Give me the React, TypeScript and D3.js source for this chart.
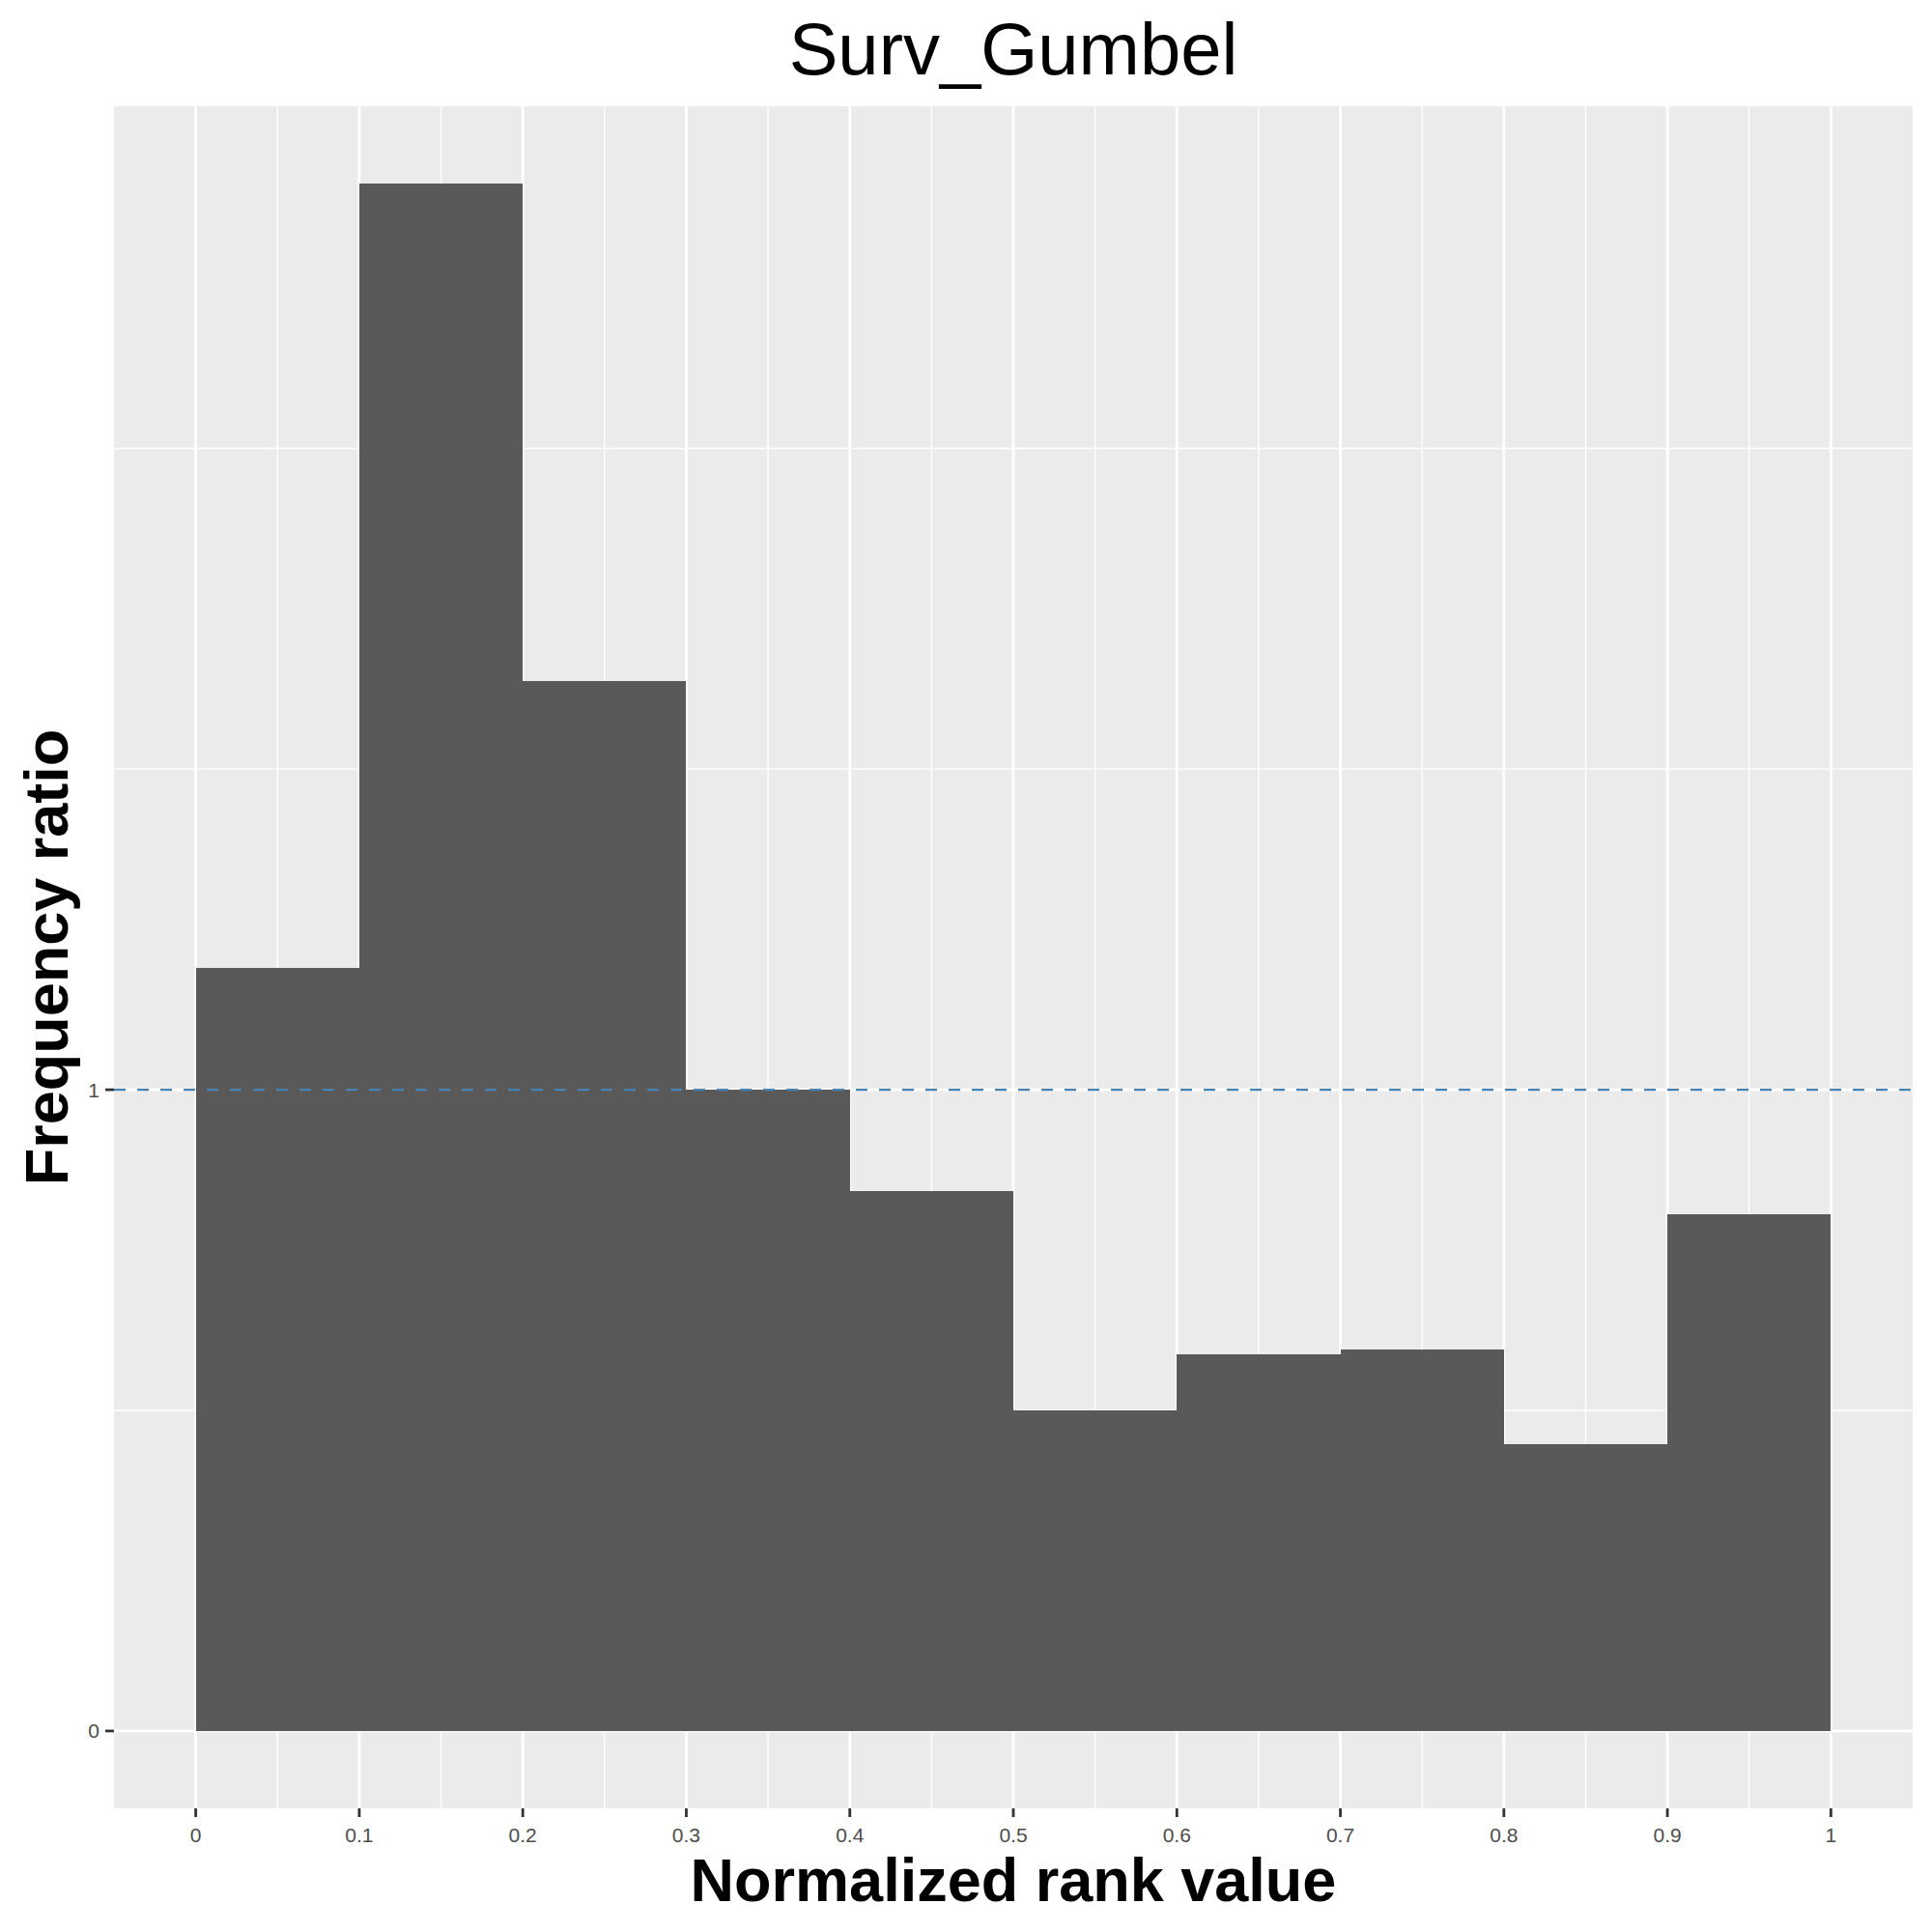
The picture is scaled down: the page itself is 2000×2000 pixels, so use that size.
import * as React from 'react';
import * as d3 from 'd3';

// histogram of normalized rank values (bin width 0.1)
const binEdges = [0, 0.1, 0.2, 0.3, 0.4, 0.5, 0.6, 0.7, 0.8, 0.9, 1];
const frequencyRatio = [1.19, 2.413, 1.638, 1.0, 0.842, 0.5, 0.587, 0.595, 0.447, 0.806];
const xTicks = [0, 0.1, 0.2, 0.3, 0.4, 0.5, 0.6, 0.7, 0.8, 0.9, 1];
const xMinor = [0.05, 0.15, 0.25, 0.35, 0.45, 0.55, 0.65, 0.75, 0.85, 0.95];
const yTicks = [0, 1];
const yMinor = [0.5, 1.5, 2];
const referenceLine = 1;
const chartTitle = 'Surv_Gumbel';
const xTitle = 'Normalized rank value';
const yTitle = 'Frequency ratio';

const FONT = "'Liberation Sans', Arial, sans-serif";

export default function App() {
  const ref = React.useRef<SVGSVGElement>(null);

  React.useEffect(() => {
    const svgWidth = 2000;
    const svgHeight = 2000;
    const panel = { left: 118, right: 1980, top: 110, bottom: 1872 };

    const svg = d3.select(ref.current);
    svg.selectAll('*').remove();
    svg.attr('width', svgWidth).attr('height', svgHeight);

    const xScale = d3
      .scaleLinear()
      .domain([-0.05, 1.05])
      .range([panel.left, panel.right]);
    const yMax = d3.max(frequencyRatio) as number;
    const yScale = d3
      .scaleLinear()
      .domain([-0.05 * yMax, yMax * 1.05])
      .range([panel.bottom, panel.top]);

    svg
      .append('rect')
      .attr('x', panel.left)
      .attr('y', panel.top)
      .attr('width', panel.right - panel.left)
      .attr('height', panel.bottom - panel.top)
      .attr('fill', '#EBEBEB');

    const grid = svg.append('g').attr('stroke', '#fff');
    grid
      .selectAll('.xminor')
      .data(xMinor)
      .enter()
      .append('line')
      .attr('x1', d => xScale(d))
      .attr('x2', d => xScale(d))
      .attr('y1', panel.top)
      .attr('y2', panel.bottom)
      .attr('stroke-width', 1.4);
    grid
      .selectAll('.yminor')
      .data(yMinor)
      .enter()
      .append('line')
      .attr('x1', panel.left)
      .attr('x2', panel.right)
      .attr('y1', d => yScale(d))
      .attr('y2', d => yScale(d))
      .attr('stroke-width', 1.4);
    grid
      .selectAll('.xmajor')
      .data(xTicks)
      .enter()
      .append('line')
      .attr('x1', d => xScale(d))
      .attr('x2', d => xScale(d))
      .attr('y1', panel.top)
      .attr('y2', panel.bottom)
      .attr('stroke-width', 2.8);
    grid
      .selectAll('.ymajor')
      .data(yTicks)
      .enter()
      .append('line')
      .attr('x1', panel.left)
      .attr('x2', panel.right)
      .attr('y1', d => yScale(d))
      .attr('y2', d => yScale(d))
      .attr('stroke-width', 2.8);

    svg
      .append('g')
      .selectAll('rect')
      .data(frequencyRatio)
      .enter()
      .append('rect')
      .attr('x', (d, i) => xScale(binEdges[i]))
      .attr('width', (d, i) => xScale(binEdges[i + 1]) - xScale(binEdges[i]))
      .attr('y', d => yScale(d))
      .attr('height', d => yScale(0) - yScale(d))
      .attr('fill', '#595959')
      .attr('shape-rendering', 'crispEdges');

    svg
      .append('line')
      .attr('x1', panel.left)
      .attr('x2', panel.right)
      .attr('y1', yScale(referenceLine))
      .attr('y2', yScale(referenceLine))
      .attr('stroke', 'steelblue')
      .attr('stroke-width', 2.2)
      .attr('stroke-dasharray', '12,12');

    // x axis
    const xAxis = svg.append('g');
    xAxis
      .selectAll('line')
      .data(xTicks)
      .enter()
      .append('line')
      .attr('x1', d => xScale(d))
      .attr('x2', d => xScale(d))
      .attr('y1', panel.bottom)
      .attr('y2', panel.bottom + 9)
      .attr('stroke', '#333')
      .attr('stroke-width', 2.8);
    xAxis
      .selectAll('text')
      .data(xTicks)
      .enter()
      .append('text')
      .attr('x', d => xScale(d))
      .attr('y', 1907)
      .attr('text-anchor', 'middle')
      .attr('font-family', FONT)
      .attr('font-size', 21)
      .attr('fill', '#4D4D4D')
      .text(d => d3.format('~g')(d));

    // y axis
    const yAxis = svg.append('g');
    yAxis
      .selectAll('line')
      .data(yTicks)
      .enter()
      .append('line')
      .attr('x1', panel.left - 9)
      .attr('x2', panel.left)
      .attr('y1', d => yScale(d))
      .attr('y2', d => yScale(d))
      .attr('stroke', '#333')
      .attr('stroke-width', 2.8);
    yAxis
      .selectAll('text')
      .data(yTicks)
      .enter()
      .append('text')
      .attr('x', panel.left - 15)
      .attr('y', d => yScale(d))
      .attr('dy', '0.36em')
      .attr('text-anchor', 'end')
      .attr('font-family', FONT)
      .attr('font-size', 21)
      .attr('fill', '#4D4D4D')
      .text(d => String(d));

    const cx = (panel.left + panel.right) / 2;
    svg
      .append('text')
      .attr('x', cx)
      .attr('y', 77)
      .attr('text-anchor', 'middle')
      .attr('font-family', FONT)
      .attr('font-size', 76)
      .attr('fill', '#000')
      .text(chartTitle);

    svg
      .append('text')
      .attr('x', cx)
      .attr('y', 1968)
      .attr('text-anchor', 'middle')
      .attr('font-family', FONT)
      .attr('font-weight', 'bold')
      .attr('font-size', 63)
      .attr('fill', '#000')
      .text(xTitle);

    svg
      .append('text')
      .attr('transform', `translate(70, ${(panel.top + panel.bottom) / 2}) rotate(-90)`)
      .attr('text-anchor', 'middle')
      .attr('font-family', FONT)
      .attr('font-weight', 'bold')
      .attr('font-size', 63)
      .attr('fill', '#000')
      .text(yTitle);
  }, []);

  return (
    <div style={{ position: 'absolute', left: 0, top: 0 }}>
      <svg ref={ref} style={{ display: 'block', background: '#fff' }} />
    </div>
  );
}
